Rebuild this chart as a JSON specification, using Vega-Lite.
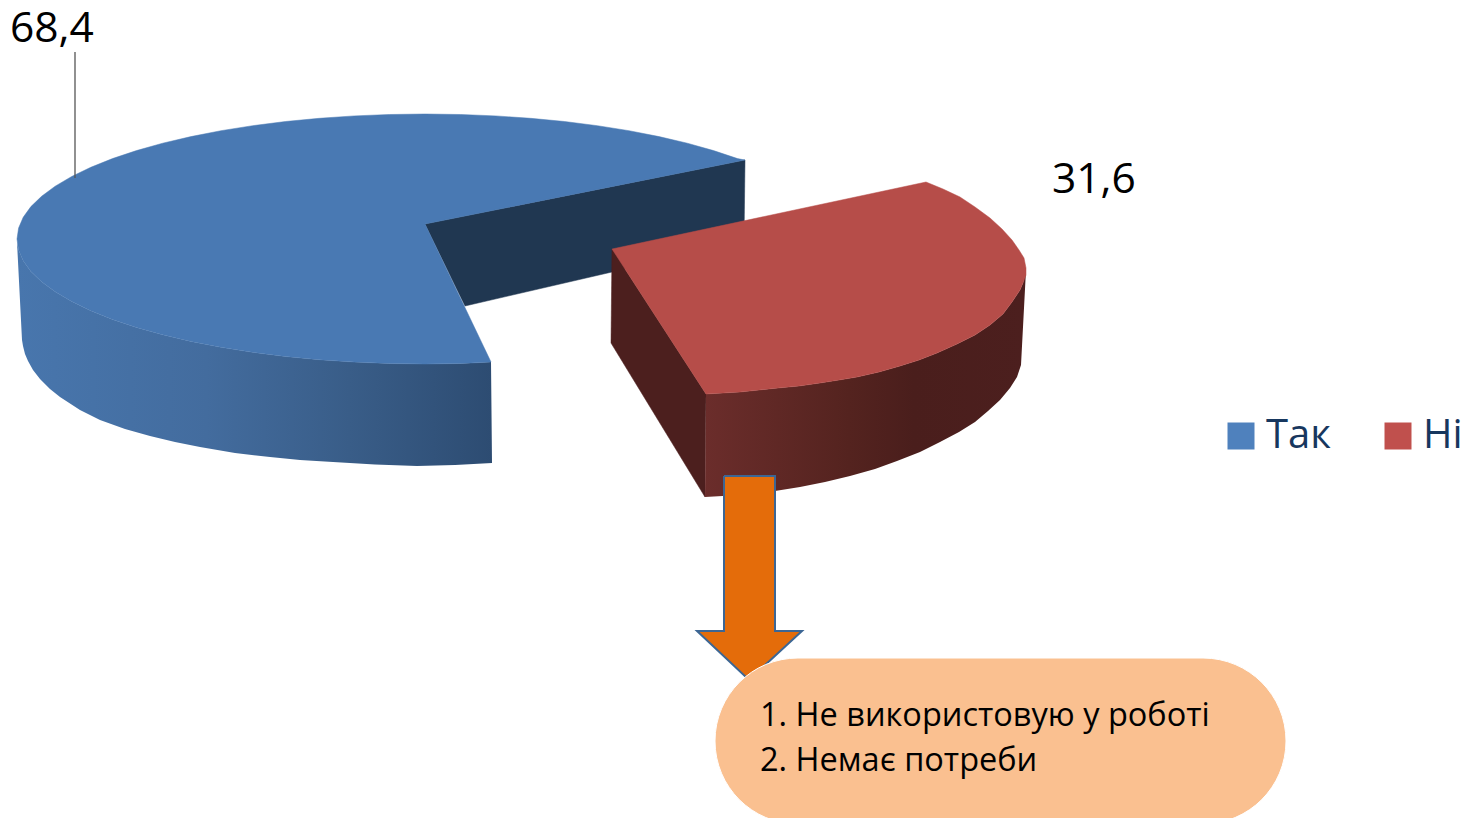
{
"$schema":"https://vega.github.io/schema/vega-lite/v6.json",
"width":1478,"height":818,"padding":0,"autosize":{"type":"none"},
"background":"#ffffff","view":{"stroke":null},
"config":{"font":"Open Sans"},
"datasets":{
"darkWall":[{"i":1,"x":425,"y":224},{"i":2,"x":745,"y":160},{"i":3,"x":744,"y":241},{"i":4,"x":612,"y":272},{"i":5,"x":465,"y":306},{"i":6,"x":425,"y":224}],
"blueSide":[{"i":1,"x":17,"y":242},{"i":2,"x":18.6,"y":249.9},{"i":3,"x":23.2,"y":260.7},{"i":4,"x":30.9,"y":271.4},{"i":5,"x":41.6,"y":281.7},{"i":6,"x":55.2,"y":291.8},{"i":7,"x":71.7,"y":301.5},{"i":8,"x":90.8,"y":310.7},{"i":9,"x":112.5,"y":319.4},{"i":10,"x":136.5,"y":327.4},{"i":11,"x":162.7,"y":334.8},{"i":12,"x":191,"y":341.4},{"i":13,"x":221,"y":347.3},{"i":14,"x":252.6,"y":352.3},{"i":15,"x":285.5,"y":356.5},{"i":16,"x":319.4,"y":359.7},{"i":17,"x":354.2,"y":362.1},{"i":18,"x":389.4,"y":363.5},{"i":19,"x":425,"y":364},{"i":20,"x":460.6,"y":363.5},{"i":21,"x":491,"y":362},{"i":22,"x":492,"y":463},{"i":23,"x":455,"y":465},{"i":24,"x":417,"y":466},{"i":25,"x":375,"y":464.5},{"i":26,"x":333,"y":462},{"i":27,"x":300,"y":460},{"i":28,"x":270,"y":457},{"i":29,"x":235,"y":453},{"i":30,"x":200,"y":447},{"i":31,"x":175,"y":442},{"i":32,"x":150,"y":436},{"i":33,"x":125,"y":429},{"i":34,"x":100,"y":420},{"i":35,"x":80,"y":410},{"i":36,"x":60,"y":397},{"i":37,"x":50,"y":389},{"i":38,"x":40,"y":379},{"i":39,"x":33,"y":370},{"i":40,"x":28,"y":361},{"i":41,"x":25,"y":354},{"i":42,"x":23,"y":346},{"i":43,"x":22,"y":340},{"i":44,"x":17,"y":242}],
"blueTop":[{"i":1,"x":425,"y":224},{"i":2,"x":745,"y":160},{"i":3,"x":737.5,"y":158.6},{"i":4,"x":713.5,"y":150.6},{"i":5,"x":687.3,"y":143.2},{"i":6,"x":659,"y":136.6},{"i":7,"x":629,"y":130.7},{"i":8,"x":597.4,"y":125.7},{"i":9,"x":564.5,"y":121.5},{"i":10,"x":530.6,"y":118.3},{"i":11,"x":495.8,"y":115.9},{"i":12,"x":460.6,"y":114.5},{"i":13,"x":425,"y":114},{"i":14,"x":389.4,"y":114.5},{"i":15,"x":354.2,"y":115.9},{"i":16,"x":319.4,"y":118.3},{"i":17,"x":285.5,"y":121.5},{"i":18,"x":252.6,"y":125.7},{"i":19,"x":221,"y":130.7},{"i":20,"x":191,"y":136.6},{"i":21,"x":162.7,"y":143.2},{"i":22,"x":136.5,"y":150.6},{"i":23,"x":112.5,"y":158.6},{"i":24,"x":90.8,"y":167.3},{"i":25,"x":71.7,"y":176.5},{"i":26,"x":55.2,"y":186.2},{"i":27,"x":41.6,"y":196.3},{"i":28,"x":30.9,"y":206.6},{"i":29,"x":23.2,"y":217.3},{"i":30,"x":18.6,"y":228.1},{"i":31,"x":17,"y":239},{"i":32,"x":18.6,"y":249.9},{"i":33,"x":23.2,"y":260.7},{"i":34,"x":30.9,"y":271.4},{"i":35,"x":41.6,"y":281.7},{"i":36,"x":55.2,"y":291.8},{"i":37,"x":71.7,"y":301.5},{"i":38,"x":90.8,"y":310.7},{"i":39,"x":112.5,"y":319.4},{"i":40,"x":136.5,"y":327.4},{"i":41,"x":162.7,"y":334.8},{"i":42,"x":191,"y":341.4},{"i":43,"x":221,"y":347.3},{"i":44,"x":252.6,"y":352.3},{"i":45,"x":285.5,"y":356.5},{"i":46,"x":319.4,"y":359.7},{"i":47,"x":354.2,"y":362.1},{"i":48,"x":389.4,"y":363.5},{"i":49,"x":425,"y":364},{"i":50,"x":460.6,"y":363.5},{"i":51,"x":491,"y":362},{"i":52,"x":425,"y":224}],
"redInner":[{"i":1,"x":612,"y":249},{"i":2,"x":706,"y":394},{"i":3,"x":705,"y":497},{"i":4,"x":611,"y":343},{"i":5,"x":612,"y":249}],
"redFront":[{"i":1,"x":706,"y":394},{"i":2,"x":723,"y":393},{"i":3,"x":740,"y":392},{"i":4,"x":759,"y":390},{"i":5,"x":778,"y":388},{"i":6,"x":799,"y":386},{"i":7,"x":820,"y":383},{"i":8,"x":839,"y":380},{"i":9,"x":857,"y":377},{"i":10,"x":879,"y":372},{"i":11,"x":900,"y":366},{"i":12,"x":919,"y":360},{"i":13,"x":937,"y":353},{"i":14,"x":957,"y":344},{"i":15,"x":975,"y":335},{"i":16,"x":990,"y":325},{"i":17,"x":1003,"y":314},{"i":18,"x":1012,"y":302},{"i":19,"x":1020,"y":290},{"i":20,"x":1023,"y":283},{"i":21,"x":1026,"y":270},{"i":22,"x":1021,"y":365},{"i":23,"x":1017,"y":377},{"i":24,"x":1010,"y":388},{"i":25,"x":1000,"y":400},{"i":26,"x":988,"y":411},{"i":27,"x":975,"y":422},{"i":28,"x":959,"y":432},{"i":29,"x":940,"y":442},{"i":30,"x":920,"y":452},{"i":31,"x":897,"y":461},{"i":32,"x":875,"y":469},{"i":33,"x":850,"y":476},{"i":34,"x":825,"y":482},{"i":35,"x":800,"y":487},{"i":36,"x":775,"y":491},{"i":37,"x":740,"y":495},{"i":38,"x":705,"y":497},{"i":39,"x":706,"y":394}],
"redTop":[{"i":1,"x":612,"y":249},{"i":2,"x":926,"y":182},{"i":3,"x":943,"y":189},{"i":4,"x":960,"y":197},{"i":5,"x":975,"y":207},{"i":6,"x":990,"y":218},{"i":7,"x":1002,"y":229},{"i":8,"x":1012,"y":240},{"i":9,"x":1019,"y":250},{"i":10,"x":1024,"y":258},{"i":11,"x":1026,"y":268},{"i":12,"x":1026,"y":275},{"i":13,"x":1023,"y":283},{"i":14,"x":1020,"y":290},{"i":15,"x":1012,"y":302},{"i":16,"x":1003,"y":314},{"i":17,"x":990,"y":325},{"i":18,"x":975,"y":335},{"i":19,"x":957,"y":344},{"i":20,"x":937,"y":353},{"i":21,"x":919,"y":360},{"i":22,"x":900,"y":366},{"i":23,"x":879,"y":372},{"i":24,"x":857,"y":377},{"i":25,"x":839,"y":380},{"i":26,"x":820,"y":383},{"i":27,"x":799,"y":386},{"i":28,"x":778,"y":388},{"i":29,"x":759,"y":390},{"i":30,"x":740,"y":392},{"i":31,"x":723,"y":393},{"i":32,"x":706,"y":394},{"i":33,"x":612,"y":249}],
"arrow":[{"i":1,"x":724,"y":476},{"i":2,"x":775,"y":476},{"i":3,"x":775,"y":631},{"i":4,"x":802,"y":631},{"i":5,"x":749,"y":680},{"i":6,"x":697,"y":631},{"i":7,"x":724,"y":631},{"i":8,"x":724,"y":476}]
},
"layer":[
{"data":{"name":"darkWall"},"mark":{"type":"line","fill":"#203751","stroke":"#203751","strokeWidth":0.5},
 "encoding":{"x":{"field":"x","type":"quantitative","scale":{"domain":[0,1478],"nice":false,"zero":false},"axis":null},"y":{"field":"y","type":"quantitative","scale":{"domain":[818,0],"nice":false,"zero":false},"axis":null},"order":{"field":"i"}}},
{"data":{"name":"blueSide"},"mark":{"type":"line","strokeWidth":0,"fill":{"gradient":"linear","x1":0,"x2":1,"y1":0,"y2":0,"stops":[{"offset":0,"color":"#4876ad"},{"offset":0.4,"color":"#436c9e"},{"offset":0.7,"color":"#395d88"},{"offset":1,"color":"#2d4c72"}]}},
 "encoding":{"x":{"field":"x","type":"quantitative"},"y":{"field":"y","type":"quantitative"},"order":{"field":"i"}}},
{"data":{"name":"blueTop"},"mark":{"type":"line","fill":"#4979b3","stroke":"#4979b3","strokeWidth":0.5},
 "encoding":{"x":{"field":"x","type":"quantitative"},"y":{"field":"y","type":"quantitative"},"order":{"field":"i"}}},
{"data":{"name":"redInner"},"mark":{"type":"line","fill":"#4c1f1e","stroke":"#4c1f1e","strokeWidth":0.5},
 "encoding":{"x":{"field":"x","type":"quantitative"},"y":{"field":"y","type":"quantitative"},"order":{"field":"i"}}},
{"data":{"name":"redFront"},"mark":{"type":"line","strokeWidth":0,"fill":{"gradient":"linear","x1":0,"x2":1,"y1":0,"y2":0,"stops":[{"offset":0,"color":"#6b2d2b"},{"offset":0.45,"color":"#54231f"},{"offset":0.65,"color":"#4a1e1c"},{"offset":1,"color":"#4c1f1e"}]}},
 "encoding":{"x":{"field":"x","type":"quantitative"},"y":{"field":"y","type":"quantitative"},"order":{"field":"i"}}},
{"data":{"name":"redTop"},"mark":{"type":"line","fill":"#b64d49","stroke":"#b64d49","strokeWidth":0.5},
 "encoding":{"x":{"field":"x","type":"quantitative"},"y":{"field":"y","type":"quantitative"},"order":{"field":"i"}}},
{"data":{"values":[{"x":75,"y":52,"y2":178}]},"mark":{"type":"rule","color":"#555555","strokeWidth":1.3},
 "encoding":{"x":{"field":"x","type":"quantitative"},"y":{"field":"y","type":"quantitative"},"y2":{"field":"y2"}}},
{"data":{"name":"arrow"},"mark":{"type":"line","fill":"#e46c0a","stroke":"#3c6694","strokeWidth":2},
 "encoding":{"x":{"field":"x","type":"quantitative"},"y":{"field":"y","type":"quantitative"},"order":{"field":"i"}}},
{"data":{"values":[{"x":715,"x2":1286,"y":658,"y2":824}]},"mark":{"type":"rect","fill":"#fac090","stroke":"#ffffff","strokeWidth":1,"cornerRadius":83},
 "encoding":{"x":{"field":"x","type":"quantitative"},"x2":{"field":"x2"},"y":{"field":"y","type":"quantitative"},"y2":{"field":"y2"}}},
{"data":{"values":[{"x":10,"y":42,"t":"68,4"},{"x":1052,"y":193,"t":"31,6"}]},"mark":{"type":"text","align":"left","baseline":"alphabetic","fontSize":42.5,"color":"#000000","font":"Open Sans"},
 "encoding":{"x":{"field":"x","type":"quantitative"},"y":{"field":"y","type":"quantitative"},"text":{"field":"t"}}},
{"data":{"values":[{"x":760,"y":726,"t":"1. Не використовую у роботі"},{"x":760,"y":771,"t":"2. Немає потреби"}]},"mark":{"type":"text","align":"left","baseline":"alphabetic","fontSize":32.5,"color":"#000000","font":"Open Sans"},
 "encoding":{"x":{"field":"x","type":"quantitative"},"y":{"field":"y","type":"quantitative"},"text":{"field":"t"}}},
{"data":{"values":[{"answer":"Так","value":68.4,"x":75,"y":100},{"answer":"Ні","value":31.6,"x":900,"y":250}]},"mark":{"type":"point","filled":true,"size":0},
 "encoding":{"x":{"field":"x","type":"quantitative"},"y":{"field":"y","type":"quantitative"},
 "color":{"field":"answer","type":"nominal","sort":["Так","Ні"],"scale":{"domain":["Так","Ні"],"range":["#4f81bd","#c0504d"]},
 "legend":{"title":null,"orient":"none","legendX":1221,"legendY":416,"direction":"horizontal","columns":2,"symbolType":"square","symbolSize":729,"symbolStrokeWidth":0,"labelFontSize":40,"labelColor":"#17375e","labelFont":"Open Sans","labelOffset":5,"columnPadding":47,"symbolOpacity":1}}}}
]
}
